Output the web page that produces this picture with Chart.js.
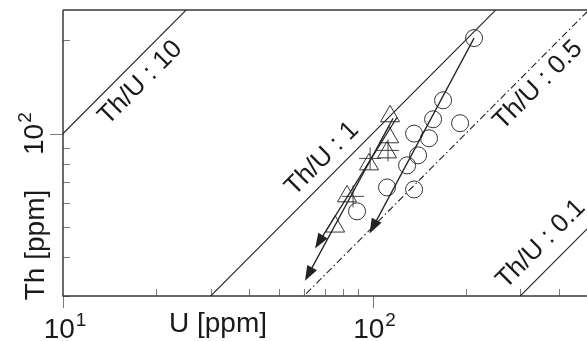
<!DOCTYPE html>
<html>
<head>
<meta charset="utf-8">
<script src="https://cdn.jsdelivr.net/npm/chart.js@4"></script>
<style>
  html, body { margin: 0; padding: 0; background: #fff; }
  #wrap { width: 587px; height: 341px; }
</style>
</head>
<body>
<div id="wrap"><canvas id="thu-chart"></canvas></div>
<script>
// Dados das amostras (U e Th em ppm)
const circleU = [212.8, 169, 156.9, 191.8, 136.2, 152.2, 140.3, 129.3, 111.4, 136.2, 89.1];
const circleTh = [203, 128, 111.2, 108, 100, 96.6, 85.1, 79, 67.1, 66.1, 56.2];

const triangleU = [113.9, 113.1, 111.4, 97.4, 82.7, 75.7];
const triangleTh = [113.7, 97.3, 87.0, 79.6, 62.8, 50.2];

const plusU = [112.2, 98.2, 86.5];
const plusTh = [88.3, 83.2, 62.8];

// Linhas de razao Th/U
const ratios = [10, 1, 0.5, 0.1];
const ratioLabels = ['Th/U : 10', 'Th/U : 1', 'Th/U : 0.5', 'Th/U : 0.1'];
const labelAtU = [16.1, 75.5, 313, 393];

// Setas (inicio e ponta)
const arrowFromU = [212.8, 120, 116.5];
const arrowFromTh = [203, 112.9, 112.0];
const arrowToU = [97.8, 65.2, 60.5];
const arrowToTh = [47.7, 42.7, 33.6];

// Marcas dos eixos
const xTicks = [10, 20, 30, 40, 50, 60, 70, 80, 90, 100, 200, 300, 400];
const yTicks = [30, 40, 50, 60, 70, 80, 90, 100, 200];
const majorTicks = [10, 100];

const toPoints = (xs, ys) => xs.map((x, i) => ({ x: x, y: ys[i] }));

const ink = '#222';
const labelOffset = [19, -18, 17, -22];

const ratioDatasets = ratios.map((r, i) => ({
  type: 'line',
  data: [{ x: 1, y: r }, { x: 5000, y: 5000 * r }],
  borderColor: ink,
  borderWidth: 1.1,
  borderDash: r === 0.5 ? [7, 3, 1.5, 3] : [],
  pointRadius: 0,
  fill: false
}));

// Plugin para eixos, textos e setas
const drawPlugin = {
  id: 'drawPlugin',
  beforeDatasetsDraw(chart) {
    const { ctx, chartArea: a, scales: { x, y } } = chart;
    ctx.save();
    ctx.strokeStyle = '#7a7a7a';
    ctx.lineWidth = 1;
    xTicks.forEach(v => {
      const px = Math.round(x.getPixelForValue(v)) + 0.5;
      ctx.beginPath();
      if (majorTicks.includes(v)) { ctx.moveTo(px, a.bottom); ctx.lineTo(px, a.bottom + 12); }
      else { ctx.moveTo(px, a.bottom); ctx.lineTo(px, a.bottom - 7); }
      ctx.stroke();
    });
    yTicks.forEach(v => {
      const py = Math.round(y.getPixelForValue(v)) + 0.5;
      ctx.beginPath();
      if (majorTicks.includes(v)) { ctx.moveTo(a.left, py); ctx.lineTo(a.left - 13, py); }
      else { ctx.moveTo(a.left, py); ctx.lineTo(a.left + 7, py); }
      ctx.stroke();
    });
    // bordas
    ctx.strokeStyle = '#3a3a3a';
    ctx.lineWidth = 1.5;
    ctx.beginPath();
    ctx.moveTo(a.left, a.top);
    ctx.lineTo(chart.width, a.top);
    ctx.moveTo(a.left, a.top);
    ctx.lineTo(a.left, a.bottom);
    ctx.lineTo(chart.width, a.bottom);
    ctx.stroke();
    ctx.restore();
  },
  afterDatasetsDraw(chart) {
    const { ctx, chartArea: a, scales: { x, y } } = chart;
    ctx.save();

    // setas
    ctx.strokeStyle = ink;
    ctx.fillStyle = ink;
    ctx.lineWidth = 1.3;
    arrowFromU.forEach((u, i) => {
      const x0 = x.getPixelForValue(u), y0 = y.getPixelForValue(arrowFromTh[i]);
      const x1 = x.getPixelForValue(arrowToU[i]), y1 = y.getPixelForValue(arrowToTh[i]);
      const ang = Math.atan2(y1 - y0, x1 - x0);
      ctx.beginPath();
      ctx.moveTo(x0, y0);
      ctx.lineTo(x1 - Math.cos(ang) * 10, y1 - Math.sin(ang) * 10);
      ctx.stroke();
      const len = 15, half = 5.5;
      const bx = x1 - Math.cos(ang) * len, by = y1 - Math.sin(ang) * len;
      ctx.beginPath();
      ctx.moveTo(x1, y1);
      ctx.lineTo(bx + Math.sin(ang) * half, by - Math.cos(ang) * half);
      ctx.lineTo(bx - Math.sin(ang) * half, by + Math.cos(ang) * half);
      ctx.closePath();
      ctx.fill();
    });

    // rotulos das linhas Th/U
    ctx.fillStyle = '#1a1a1a';
    ctx.font = '26px "Liberation Sans", Arial, sans-serif';
    ctx.textAlign = 'center';
    ctx.textBaseline = 'middle';
    ratios.forEach((r, i) => {
      const u = labelAtU[i];
      const px = x.getPixelForValue(u), py = y.getPixelForValue(r * u);
      const qx = x.getPixelForValue(u * 2), qy = y.getPixelForValue(r * u * 2);
      const ang = Math.atan2(qy - py, qx - px);
      ctx.save();
      ctx.translate(px, py);
      ctx.rotate(ang);
      ctx.fillText(ratioLabels[i], 0, labelOffset[i]);
      ctx.restore();
    });

    // rotulos dos eixos (10^n)
    const power = (cx, base, exp) => {
      ctx.font = '28px "Liberation Sans", Arial, sans-serif';
      const w1 = ctx.measureText('10').width;
      ctx.font = '19px "Liberation Sans", Arial, sans-serif';
      const w2 = ctx.measureText(exp).width;
      const start = cx - (w1 + w2 + 1) / 2;
      ctx.textAlign = 'left';
      ctx.textBaseline = 'alphabetic';
      ctx.font = '28px "Liberation Sans", Arial, sans-serif';
      ctx.fillText('10', start, base);
      ctx.font = '19px "Liberation Sans", Arial, sans-serif';
      ctx.fillText(exp, start + w1 + 1, base - 12);
    };
    majorTicks.forEach(v => {
      power(x.getPixelForValue(v) + 2, a.bottom + 42, String(Math.log10(v)));
    });
    majorTicks.forEach(v => {
      if (v < y.min || v > y.max) return;
      ctx.save();
      ctx.translate(a.left - 20, y.getPixelForValue(v));
      ctx.rotate(-Math.PI / 2);
      power(0, 0, String(Math.log10(v)));
      ctx.restore();
    });

    // titulos dos eixos
    ctx.font = '28px "Liberation Sans", Arial, sans-serif';
    ctx.textAlign = 'center';
    ctx.textBaseline = 'alphabetic';
    ctx.fillText('U [ppm]', a.left + 155, a.bottom + 36);
    ctx.save();
    ctx.translate(a.left - 19, a.bottom - 51);
    ctx.rotate(-Math.PI / 2);
    ctx.fillText('Th [ppm]', 0, 0);
    ctx.restore();

    ctx.restore();
  }
};

const thuData = {
  datasets: [
    {
      label: 'circulos',
      data: toPoints(circleU, circleTh),
      pointStyle: 'circle',
      pointRadius: 8.5,
      backgroundColor: 'transparent',
      borderColor: '#333',
      borderWidth: 1
    },
    {
      label: 'triangulos',
      data: toPoints(triangleU, triangleTh),
      pointStyle: 'triangle',
      pointRadius: 11,
      backgroundColor: 'transparent',
      borderColor: '#333',
      borderWidth: 1
    },
    {
      label: 'cruzes',
      data: toPoints(plusU, plusTh),
      pointStyle: 'cross',
      pointRadius: 11,
      borderColor: '#444',
      borderWidth: 1
    },
    ...ratioDatasets
  ]
};

const thuConfig = {
  type: 'scatter',
  data: thuData,
  options: {
    responsive: true,
    maintainAspectRatio: false,
    animation: false,
    events: [],
    layout: { autoPadding: false, padding: { left: 63, top: 10, right: 0, bottom: 45 } },
    plugins: { legend: { display: false }, tooltip: { enabled: false } },
    scales: {
      x: { type: 'logarithmic', min: 10, max: 493, display: false },
      y: { type: 'logarithmic', min: 30, max: 250, display: false }
    }
  },
  plugins: [drawPlugin]
};

const thuChart = new Chart(document.getElementById('thu-chart'), thuConfig);
</script>
</body>
</html>
